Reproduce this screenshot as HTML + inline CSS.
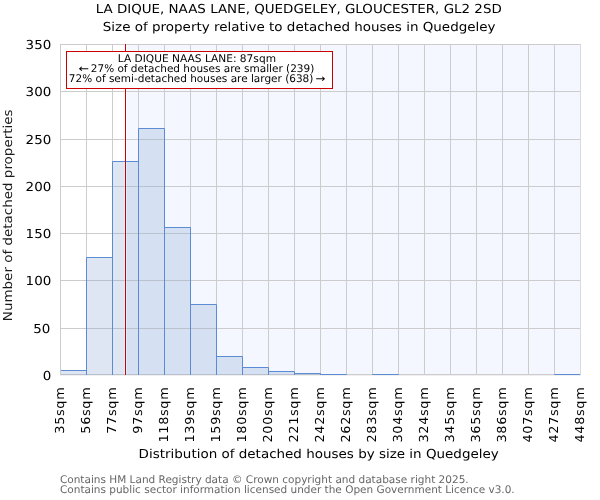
<!DOCTYPE html><html><head><meta charset="utf-8"><title>Size of property relative to detached houses in Quedgeley</title><style>html,body{margin:0;padding:0;background:#fff;overflow:hidden}svg{display:block}text{font-family:"DejaVu Sans","Liberation Sans",sans-serif;text-rendering:geometricPrecision}</style></head><body>
<svg width="600" height="500" viewBox="0 0 600 500">
<rect width="600" height="500" fill="#fff"/>
<rect x="126" y="44" width="455" height="331" fill="#f4f7ff"/>
<path d="M60.5 44V375M86.5 44V375M112.5 44V375M138.5 44V375M164.5 44V375M190.5 44V375M216.5 44V375M242.5 44V375M268.5 44V375M294.5 44V375M320.5 44V375M346.5 44V375M372.5 44V375M398.5 44V375M424.5 44V375M450.5 44V375M476.5 44V375M502.5 44V375M528.5 44V375M554.5 44V375M60 44.5H581M60 91.5H581M60 139.5H581M60 186.5H581M60 233.5H581M60 280.5H581M60 328.5H581M60 374.5H581" stroke="#cccccc" stroke-width="1" fill="none"/>
<path d="M580.5 44V375" stroke="#dadada" stroke-width="1"/>
<path d="M60 375.5H581" stroke="#000" stroke-opacity="0.06" stroke-width="1"/>
<defs><clipPath id="ax"><rect x="61" y="44" width="519" height="331"/></clipPath></defs><g clip-path="url(#ax)">
<path d="M60.5 370.5H86.5V375H60.5ZM86.5 257.5H112.5V375H86.5ZM112.5 161.5H138.5V375H112.5ZM138.5 128.5H164.5V375H138.5ZM164.5 227.5H190.5V375H164.5ZM190.5 304.5H216.5V375H190.5ZM216.5 356.5H242.5V375H216.5ZM242.5 367.5H268.5V375H242.5ZM268.5 371.5H294.5V375H268.5ZM294.5 373.5H320.5V375H294.5ZM320.5 374.5H346.5V375H320.5ZM372.5 374.5H398.5V375H372.5ZM554.5 374.5H580.5V375H554.5Z" fill="rgba(133,162,211,0.27)"/>
<path d="M60.5 375V370.5H86.5V375M86.5 375V257.5H112.5V375M112.5 375V161.5H138.5V375M138.5 375V128.5H164.5V375M164.5 375V227.5H190.5V375M190.5 375V304.5H216.5V375M216.5 375V356.5H242.5V375M242.5 375V367.5H268.5V375M268.5 375V371.5H294.5V375M294.5 375V373.5H320.5V375M320.5 375V374.5H346.5V375M372.5 375V374.5H398.5V375M554.5 375V374.5H580.5V375" fill="none" stroke="#5b8bd3" stroke-width="1"/>
</g>
<path d="M125.5 44V375" stroke="#cc0000" stroke-width="1"/>
<path d="M124.5 44V375M126.5 44V375" stroke="rgb(3,14,16)" stroke-width="1" style="mix-blend-mode:plus-lighter"/>
<rect x="66.5" y="51.5" width="266" height="37" fill="#fff" stroke="#cc0000" stroke-width="1"/>
<text transform="translate(95.65,12.9) scale(1.0874,1)" font-size="12.35">LA DIQUE, NAAS LANE, QUEDGELEY, GLOUCESTER, GL2 2SD</text>
<text transform="translate(102.82,30.7) scale(1.0911,1)" font-size="12.35">Size of property relative to detached houses in Quedgeley</text>
<text transform="translate(138.59,458) scale(1.0916,1)" font-size="12.35">Distribution of detached houses by size in Quedgeley</text>
<text transform="translate(12,321.15) rotate(-90) scale(1.0904,1)" font-size="12.35" fill="#1a1a1a">Number of detached properties</text>
<text transform="translate(117.77,61.75) scale(1.0102,1)" font-size="10.5">LA DIQUE NAAS LANE: 87sqm</text>
<text transform="translate(78.40,72) scale(1.1907,1)" font-size="10.5">←</text>
<text transform="translate(90.79,72) scale(0.9986,1)" font-size="10.5">27% of detached houses are smaller (239)</text>
<text transform="translate(68.83,82) scale(0.9986,1)" font-size="10.5">72% of semi-detached houses are larger (638)</text>
<text transform="translate(315.56,82) scale(1.1315,1)" font-size="10.5">→</text>
<text transform="translate(59.91,482.8) scale(1.0009,1)" font-size="10.5" fill="#666">Contains HM Land Registry data © Crown copyright and database right 2025.</text>
<text transform="translate(60.02,492.8) scale(0.9990,1)" font-size="10.5" fill="#666">Contains public sector information licensed under the Open Government Licence v3.0.</text>
<text transform="translate(51.26,48.6) scale(1.09,1)" font-size="12.35" text-anchor="end">350</text>
<text transform="translate(51.26,96) scale(1.09,1)" font-size="12.35" text-anchor="end">300</text>
<text transform="translate(51.26,144) scale(1.09,1)" font-size="12.35" text-anchor="end">250</text>
<text transform="translate(51.26,191) scale(1.09,1)" font-size="12.35" text-anchor="end">200</text>
<text transform="translate(51.26,238) scale(1.09,1)" font-size="12.35" text-anchor="end">150</text>
<text transform="translate(51.26,285) scale(1.09,1)" font-size="12.35" text-anchor="end">100</text>
<text transform="translate(50.26,332.6) scale(1.09,1)" font-size="12.35" text-anchor="end">50</text>
<text transform="translate(51.26,379.6) scale(1.09,1)" font-size="12.35" text-anchor="end">0</text>
<text transform="translate(64.30,386.67) rotate(-90) scale(1.04,1)" font-size="12.35" letter-spacing="0.63" text-anchor="end">35sqm</text>
<text transform="translate(90.30,386.67) rotate(-90) scale(1.04,1)" font-size="12.35" letter-spacing="0.63" text-anchor="end">56sqm</text>
<text transform="translate(116.30,386.67) rotate(-90) scale(1.04,1)" font-size="12.35" letter-spacing="0.63" text-anchor="end">77sqm</text>
<text transform="translate(142.30,386.67) rotate(-90) scale(1.04,1)" font-size="12.35" letter-spacing="0.63" text-anchor="end">97sqm</text>
<text transform="translate(168.30,386.67) rotate(-90) scale(1.04,1)" font-size="12.35" letter-spacing="0.63" text-anchor="end">118sqm</text>
<text transform="translate(194.30,386.67) rotate(-90) scale(1.04,1)" font-size="12.35" letter-spacing="0.63" text-anchor="end">139sqm</text>
<text transform="translate(220.30,386.67) rotate(-90) scale(1.04,1)" font-size="12.35" letter-spacing="0.63" text-anchor="end">159sqm</text>
<text transform="translate(246.30,386.67) rotate(-90) scale(1.04,1)" font-size="12.35" letter-spacing="0.63" text-anchor="end">180sqm</text>
<text transform="translate(272.30,386.67) rotate(-90) scale(1.04,1)" font-size="12.35" letter-spacing="0.63" text-anchor="end">200sqm</text>
<text transform="translate(298.30,386.67) rotate(-90) scale(1.04,1)" font-size="12.35" letter-spacing="0.63" text-anchor="end">221sqm</text>
<text transform="translate(324.30,386.67) rotate(-90) scale(1.04,1)" font-size="12.35" letter-spacing="0.63" text-anchor="end">242sqm</text>
<text transform="translate(350.30,386.67) rotate(-90) scale(1.04,1)" font-size="12.35" letter-spacing="0.63" text-anchor="end">262sqm</text>
<text transform="translate(376.30,386.67) rotate(-90) scale(1.04,1)" font-size="12.35" letter-spacing="0.63" text-anchor="end">283sqm</text>
<text transform="translate(402.30,386.67) rotate(-90) scale(1.04,1)" font-size="12.35" letter-spacing="0.63" text-anchor="end">304sqm</text>
<text transform="translate(428.30,386.67) rotate(-90) scale(1.04,1)" font-size="12.35" letter-spacing="0.63" text-anchor="end">324sqm</text>
<text transform="translate(454.30,386.67) rotate(-90) scale(1.04,1)" font-size="12.35" letter-spacing="0.63" text-anchor="end">345sqm</text>
<text transform="translate(480.30,386.67) rotate(-90) scale(1.04,1)" font-size="12.35" letter-spacing="0.63" text-anchor="end">365sqm</text>
<text transform="translate(506.30,386.67) rotate(-90) scale(1.04,1)" font-size="12.35" letter-spacing="0.63" text-anchor="end">386sqm</text>
<text transform="translate(532.30,386.67) rotate(-90) scale(1.04,1)" font-size="12.35" letter-spacing="0.63" text-anchor="end">407sqm</text>
<text transform="translate(558.30,386.67) rotate(-90) scale(1.04,1)" font-size="12.35" letter-spacing="0.63" text-anchor="end">427sqm</text>
<text transform="translate(584.30,386.67) rotate(-90) scale(1.04,1)" font-size="12.35" letter-spacing="0.63" text-anchor="end">448sqm</text>
</svg></body></html>
